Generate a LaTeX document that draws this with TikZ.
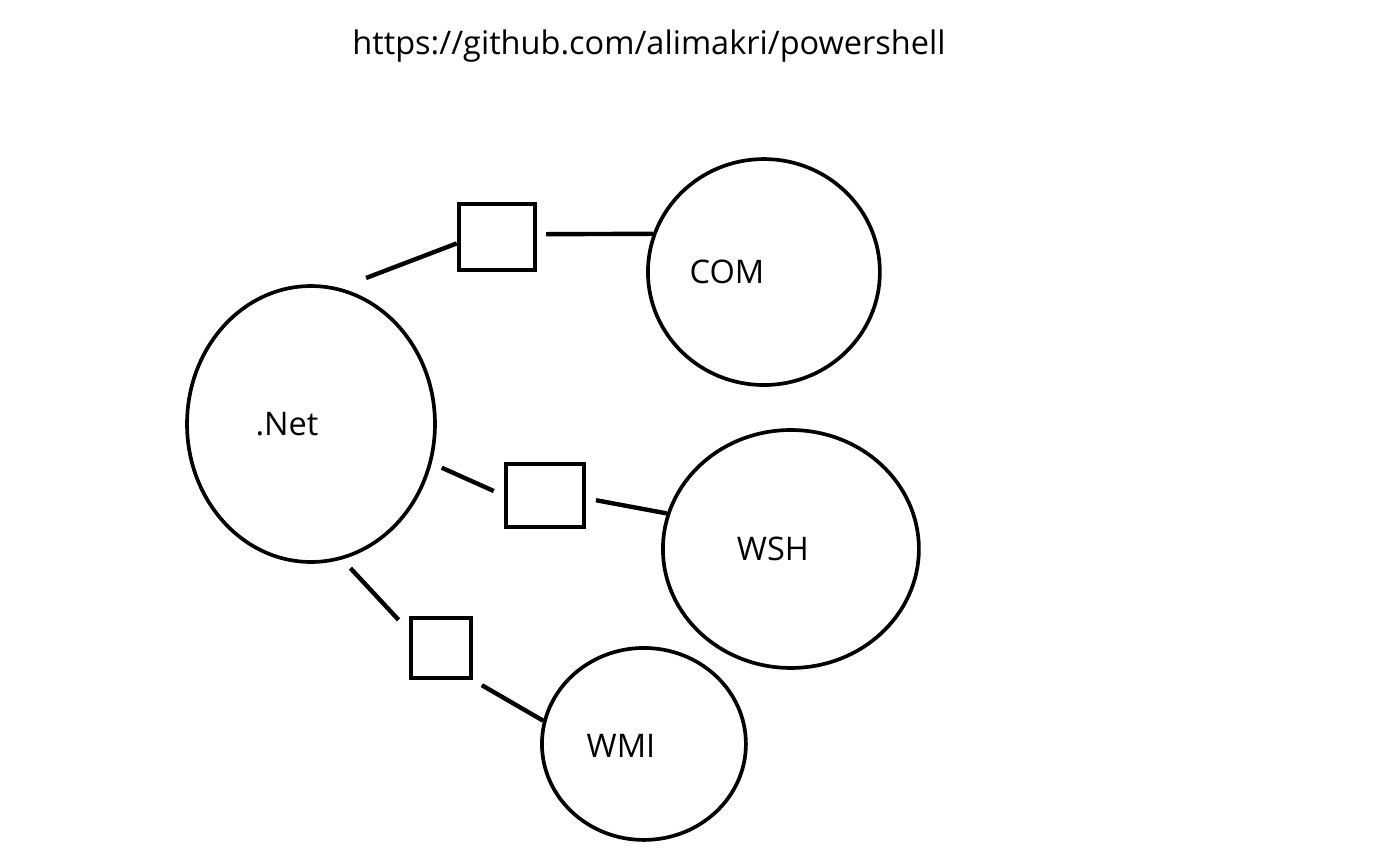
\documentclass[tikz,border=0pt]{standalone}
\usepackage{fontspec}
\setmainfont{Open Sans}
\usetikzlibrary{positioning,shapes.geometric}

\begin{document}
\begin{tikzpicture}[x=0.02cm, y=-0.02cm, on grid,
                    bubble/.style={ellipse, draw=black, line width=2.1pt, inner sep=0pt},
                    linkbox/.style={rectangle, draw=black, line width=2.5pt, inner sep=0pt},
                    link/.style={draw=black, line width=2.5pt},
                    tag/.style={font=\fontsize{18.5pt}{22pt}\selectfont},]
    \useasboundingbox (0,0) rectangle (1398,863);
    % title
    \node[tag] (url) at (649,46) {https://github.com/alimakri/powershell};
    % nodes
    \node[bubble, minimum width=4.96cm, minimum height=5.52cm] (net) at (311,424) [label={[xshift=-0.48cm, tag]center:.Net}] {};
    \node[bubble, minimum width=4.64cm, minimum height=4.52cm] (com) [above right=3.04cm and 9.06cm of net, label={[xshift=-0.74cm, tag]center:COM}] {};
    \node[bubble, minimum width=5.12cm, minimum height=4.76cm] (wsh) [below right=2.5cm and 9.6cm of net, label={[xshift=-0.36cm, tag]center:WSH}] {};
    \node[bubble, minimum width=4.08cm, minimum height=3.84cm] (wmi) [below right=6.4cm and 6.66cm of net, label={[xshift=-0.46cm, yshift=-0.04cm, tag]center:WMI}] {};
    \node[linkbox, minimum width=1.52cm, minimum height=1.32cm] (box1) [above right=3.74cm and 3.72cm of net] {};
    \node[linkbox, minimum width=1.56cm, minimum height=1.26cm] (box2) [below right=1.43cm and 4.68cm of net] {};
    \node[linkbox, minimum width=1.2cm, minimum height=1.2cm] (box3) [below right=4.48cm and 2.6cm of net] {};
    % lines
    \draw[link, shorten <=0.56cm] (net.78) -- (box1.189);
    \draw[link, shorten <=0.18cm] (box1.4) -- (com.161);
    \draw[link, shorten <=0.22cm, shorten >=0.22cm] (net.-18) -- (box2.west);
    \draw[link, shorten <=0.2cm] (box2.-4) -- (wsh.164);
    \draw[link, shorten <=0.24cm, shorten >=0.3cm] (net.-77) -- (box3.152);
    \draw[link, shorten <=0.2cm] (box3.south east) -- (wmi.167);
\end{tikzpicture}
\end{document}
